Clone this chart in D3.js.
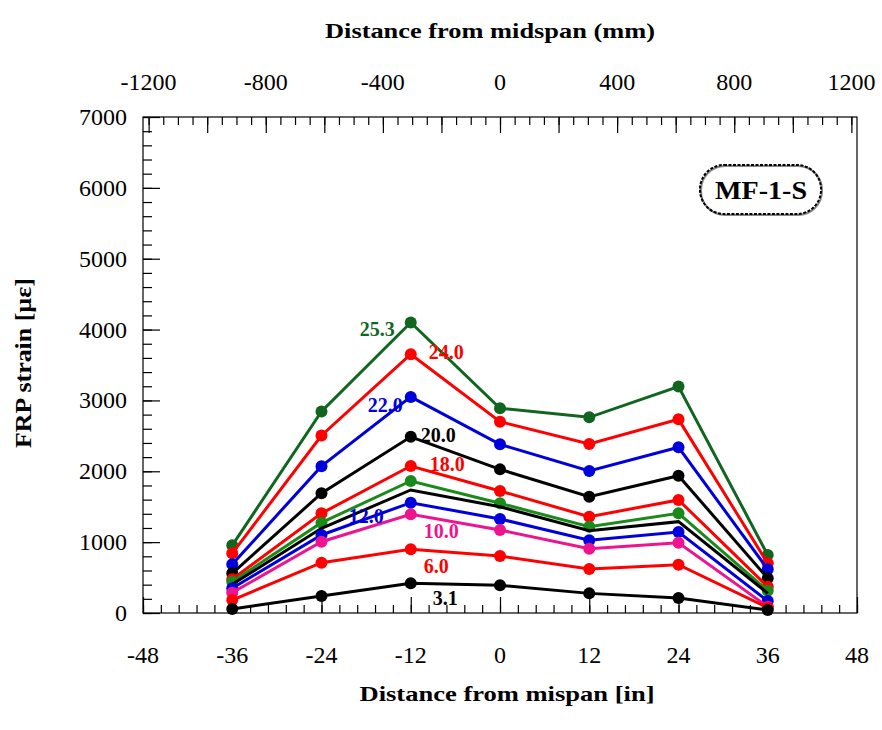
<!DOCTYPE html>
<html><head><meta charset="utf-8">
<script src="https://cdn.jsdelivr.net/npm/d3@7"></script>
<style>
body{margin:0;background:#fff}
text{font-family:"Liberation Serif","Times New Roman",Times,serif;fill:#000}
</style>
</head><body>
<svg id="chart" width="882" height="730"></svg>
<script>
// ---------- data ----------
const positionsIn = [-36, -24, -12, 0, 12, 24, 36];
const seriesNames = ["25.3", "24.0", "22.0", "20.0", "18.0", "unlabeled-green", "unlabeled-black", "12.0", "10.0", "6.0", "3.1"];
const strain25_3 = [955, 2845, 4100, 2890, 2762, 3197, 818];
const strain24_0 = [842, 2505, 3652, 2700, 2385, 2733, 701];
const strain22_0 = [687, 2072, 3050, 2380, 2004, 2338, 617];
const strain20_0 = [560, 1690, 2486, 2027, 1642, 1938, 489];
const strain18_0 = [476, 1407, 2074, 1722, 1359, 1595, 371];
const strainGreenB = [442, 1275, 1863, 1548, 1218, 1407, 315];
const strainBlackB = [405, 1195, 1736, 1500, 1161, 1289, 278];
const strain12_0 = [349, 1101, 1557, 1327, 1026, 1143, 169];
const strain10_0 = [287, 1006, 1393, 1171, 907, 992, 89];
const strain6_0 = [183, 710, 899, 804, 621, 682, 75];
const strain3_1 = [56, 240, 419, 390, 277, 212, 42];
const bottomTicks = [-48, -36, -24, -12, 0, 12, 24, 36, 48];
const topTicks = [-1200, -800, -400, 0, 400, 800, 1200];
const leftTicks = [0, 1000, 2000, 3000, 4000, 5000, 6000, 7000];
const caseName = "MF-1-S";

// ---------- styling / layout ----------
const allStrain = [strain25_3, strain24_0, strain22_0, strain20_0, strain18_0, strainGreenB, strainBlackB, strain12_0, strain10_0, strain6_0, strain3_1];
const colors = ["#10661f", "#ff0000", "#0000dd", "#000000", "#ff0000", "#1a8a1a", "#000000", "#0000dd", "#ee1490", "#ff0000", "#000000"];
const showMarkers = [true, true, true, true, true, true, false, true, true, true, true];
// label placement relative to the -12 in point: [anchor, dx, dy] or null
const labelPlace = [["end", -16, 14], ["start", 18, 5], ["end", -8, 15], ["start", 10, 5], ["start", 19, 5], null, null,
  ["end", -27, 20], ["start", 13, 24], ["start", 13, 24], ["start", 22, 22]];

const L = 143, R = 857, T = 117, B = 613;
const svg = d3.select("#chart");
const x = d3.scaleLinear().domain([-48, 48]).range([L, R]);
const xTop = d3.scaleLinear().domain([-48 * 25.4, 48 * 25.4]).range([L, R]);
const y = d3.scaleLinear().domain([0, 7000]).range([B, T]);

// frame
svg.append("rect").attr("x", L).attr("y", T).attr("width", R - L).attr("height", B - T)
  .attr("fill", "none").attr("stroke", "#000").attr("stroke-width", 1.2);

function styleAxis(g) {
  g.select(".domain").remove();
  g.selectAll("line").attr("stroke", "#000").attr("stroke-width", 1.2);
  g.selectAll("text").remove();
}
// bottom axis ticks (inward)
svg.append("g").attr("transform", `translate(0,${B})`)
  .call(d3.axisBottom(x).tickValues(d3.range(-48, 48.01, 2.4)).tickSize(-8)).call(styleAxis);
svg.append("g").attr("transform", `translate(0,${B})`)
  .call(d3.axisBottom(x).tickValues(d3.range(-48, 48.01, 12)).tickSize(-16)).call(styleAxis);
// top axis ticks (inward)
svg.append("g").attr("transform", `translate(0,${T})`)
  .call(d3.axisTop(xTop).tickValues(d3.range(-1200, 1200.1, 50)).tickSize(-8)).call(styleAxis);
svg.append("g").attr("transform", `translate(0,${T})`)
  .call(d3.axisTop(xTop).tickValues(d3.range(-1200, 1200.1, 200)).tickSize(-16)).call(styleAxis);
// left axis ticks (inward)
svg.append("g").attr("transform", `translate(${L},0)`)
  .call(d3.axisLeft(y).tickValues(d3.range(0, 7000.1, 200)).tickSize(-9)).call(styleAxis);
svg.append("g").attr("transform", `translate(${L},0)`)
  .call(d3.axisLeft(y).tickValues(d3.range(0, 7000.1, 1000)).tickSize(-17)).call(styleAxis);

// tick labels
svg.append("g").selectAll("text").data(bottomTicks).join("text")
  .attr("x", d => x(d)).attr("y", B + 50).attr("text-anchor", "middle")
  .attr("font-size", 24).text(d => d);
svg.append("g").selectAll("text").data(topTicks).join("text")
  .attr("x", d => xTop(d)).attr("y", 90).attr("text-anchor", "middle")
  .attr("font-size", 24).text(d => d);
svg.append("g").selectAll("text").data(leftTicks).join("text")
  .attr("x", L - 16).attr("y", d => y(d) + 8).attr("text-anchor", "end")
  .attr("font-size", 24).text(d => d);

// titles
svg.append("text").attr("x", 490).attr("y", 38).attr("text-anchor", "middle")
  .attr("font-size", 21).attr("font-weight", "bold")
  .attr("textLength", 330).attr("lengthAdjust", "spacingAndGlyphs")
  .text("Distance from midspan (mm)");
svg.append("text").attr("x", 507).attr("y", 701).attr("text-anchor", "middle")
  .attr("font-size", 21).attr("font-weight", "bold")
  .attr("textLength", 295).attr("lengthAdjust", "spacingAndGlyphs")
  .text("Distance from mispan [in]");
svg.append("text").attr("transform", "translate(31,363) rotate(-90)").attr("text-anchor", "middle")
  .attr("font-size", 23).attr("font-weight", "bold")
  .attr("textLength", 170).attr("lengthAdjust", "spacingAndGlyphs")
  .text("FRP strain [µε]");

// series
const line = d3.line().x((d, i) => x(positionsIn[i])).y(d => y(d));
allStrain.forEach((vals, k) => {
  const g = svg.append("g");
  g.append("path").datum(vals).attr("d", line).attr("fill", "none")
    .attr("stroke", colors[k]).attr("stroke-width", 3).attr("stroke-linejoin", "miter");
  if (showMarkers[k]) {
    g.selectAll("circle").data(vals).join("circle")
      .attr("cx", (d, i) => x(positionsIn[i])).attr("cy", d => y(d)).attr("r", 6)
      .attr("fill", colors[k]);
  }
});
// series labels
allStrain.forEach((vals, k) => {
  const p = labelPlace[k];
  if (!p) return;
  const i = positionsIn.indexOf(-12);
  svg.append("text").attr("x", x(positionsIn[i]) + p[1]).attr("y", y(vals[i]) + p[2])
    .attr("text-anchor", p[0]).attr("font-size", 20).attr("font-weight", "bold")
    .style("fill", colors[k]).text(seriesNames[k]);
});

// case label pill
const pill = svg.append("g");
pill.append("rect").attr("x", 701).attr("y", 166).attr("width", 121).attr("height", 49).attr("rx", 24)
  .attr("fill", "#fff").attr("stroke", "#888").attr("stroke-width", 2);
pill.append("rect").attr("x", 700).attr("y", 165).attr("width", 121).attr("height", 49).attr("rx", 24)
  .attr("fill", "none").attr("stroke", "#000").attr("stroke-width", 2).attr("stroke-dasharray", "3,1.5");
pill.append("text").attr("x", 761).attr("y", 199).attr("text-anchor", "middle")
  .attr("font-size", 25).attr("font-weight", "bold")
  .attr("textLength", 92).attr("lengthAdjust", "spacingAndGlyphs").text(caseName);
</script>
</body></html>
